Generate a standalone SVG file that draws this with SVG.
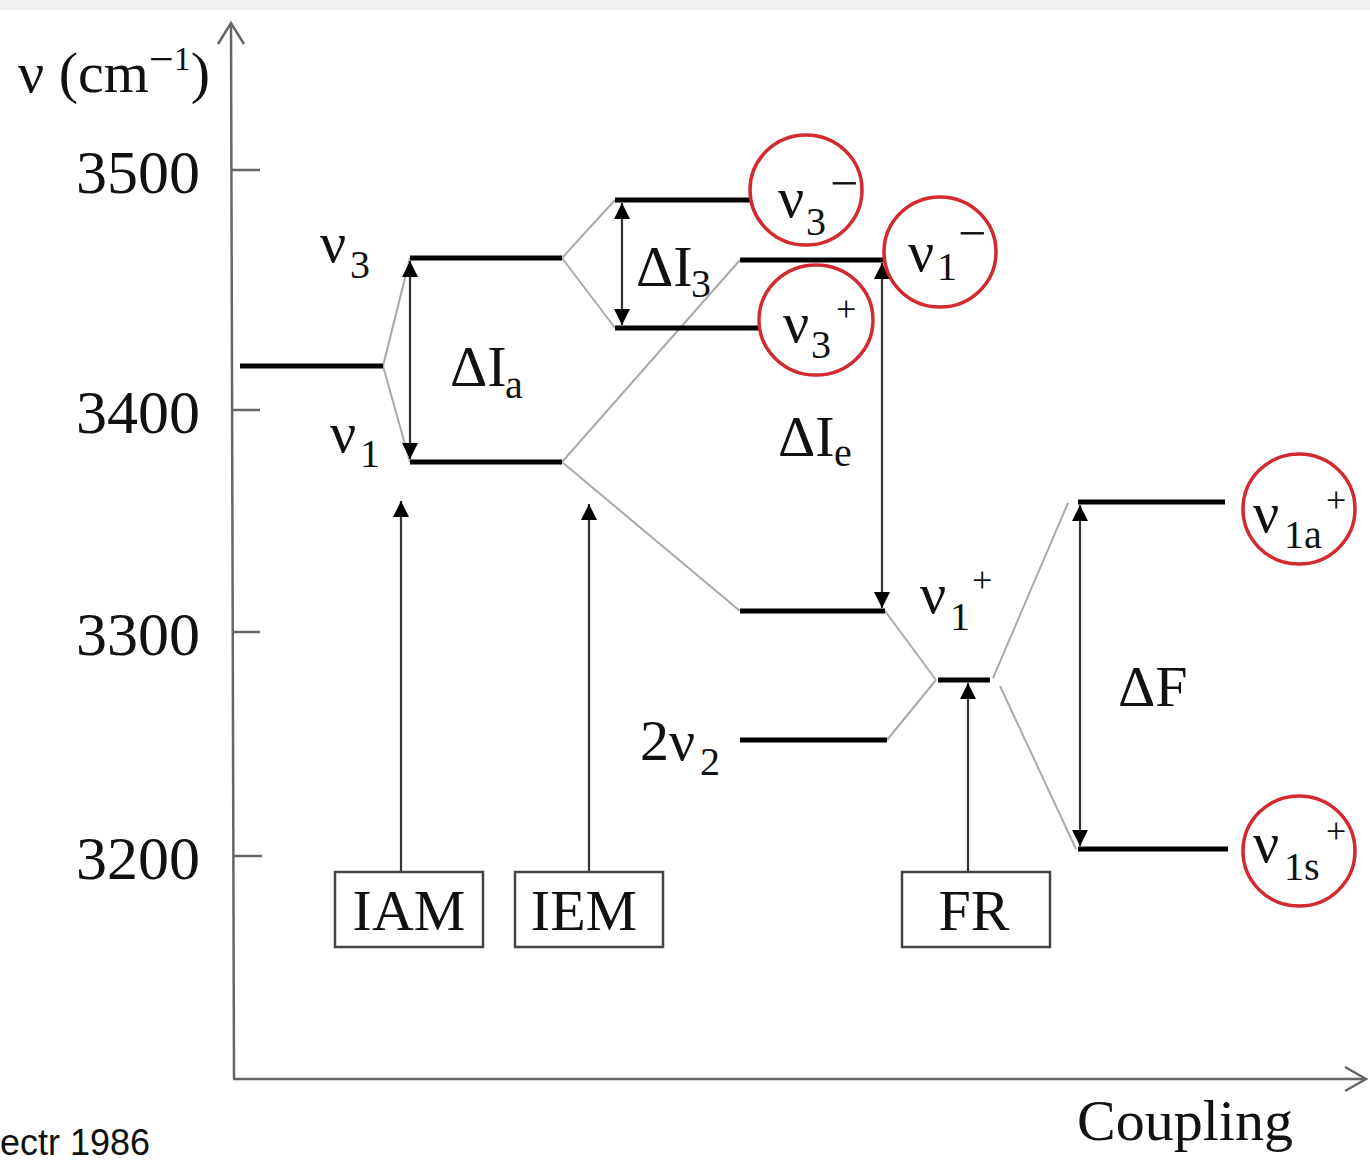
<svg xmlns="http://www.w3.org/2000/svg" width="1370" height="1175" viewBox="0 0 1370 1175">
<style>
.t{font-family:"Liberation Serif","Times New Roman",serif;fill:#111}
.big{font-size:58px}
.sub{font-size:40px}
.sup{font-size:36px}
.minus{font-size:50px}
.tick{font-size:62px}
.lvl{stroke:#000;stroke-width:5;fill:none}
.cor{stroke:#aaa;stroke-width:2;fill:none}
.arr{stroke:#333;stroke-width:2.2;fill:none}
.box{fill:#fff;stroke:#444;stroke-width:2.5}
.circ{fill:none;stroke:#d22a2e;stroke-width:3.5}
.axis{stroke:#666;stroke-width:2.5;fill:none}
</style>
<defs>
<marker id="ah" viewBox="0 0 10 10" refX="10" refY="5" markerWidth="20" markerHeight="16" markerUnits="userSpaceOnUse" orient="auto-start-reverse">
<path d="M0,0 L10,5 L0,10 z" fill="#000"/>
</marker>
</defs>
<rect x="0" y="0" width="1370" height="10" fill="#f0f0f0"/>
<rect x="0" y="10" width="1370" height="1165" fill="#fff"/>

<g id="axes">
<line class="axis" x1="231" y1="24" x2="234" y2="1079"/>
<polyline class="axis" points="218,44 231,23 244,44"/>
<line class="axis" x1="233" y1="1079" x2="1365" y2="1079"/>
<polyline class="axis" points="1345,1067 1366,1079 1345,1091"/>
<line class="axis" x1="231" y1="170" x2="260" y2="170"/>
<line class="axis" x1="232" y1="410" x2="260" y2="410"/>
<line class="axis" x1="233" y1="632" x2="260" y2="632"/>
<line class="axis" x1="233" y1="856" x2="262" y2="856"/>
<text class="t tick" x="200" y="193" text-anchor="end">3500</text>
<text class="t tick" x="200" y="433" text-anchor="end">3400</text>
<text class="t tick" x="200" y="655" text-anchor="end">3300</text>
<text class="t tick" x="200" y="879" text-anchor="end">3200</text>
<text class="t" style="font-size:58px" x="18" y="92">ν (cm<tspan style="font-size:44px" dy="-18">−</tspan><tspan style="font-size:34px" dy="-4">1</tspan><tspan dy="22">)</tspan></text>
<text class="t" style="font-size:58px" x="1077" y="1140">Coupling</text>
<text x="0" y="1155" style="font-family:'Liberation Sans',Arial,sans-serif;font-size:36px;fill:#111">ectr 1986</text>
</g>

<g id="connectors">
<line class="cor" x1="383" y1="366" x2="410" y2="258"/>
<line class="cor" x1="383" y1="366" x2="410" y2="462"/>
<line class="cor" x1="562" y1="258" x2="615" y2="200"/>
<line class="cor" x1="562" y1="258" x2="615" y2="328"/>
<line class="cor" x1="562" y1="462" x2="740" y2="260"/>
<line class="cor" x1="562" y1="462" x2="740" y2="611"/>
<line class="cor" x1="885" y1="611" x2="936" y2="680"/>
<line class="cor" x1="887" y1="740" x2="936" y2="680"/>
<line class="cor" x1="993" y1="678" x2="1068" y2="503"/>
<line class="cor" x1="1000" y1="686" x2="1076" y2="849"/>
<line class="arr" x1="410" y1="261" x2="410" y2="459" marker-start="url(#ah)" marker-end="url(#ah)"/>
<line class="arr" x1="622" y1="203" x2="622" y2="325" marker-start="url(#ah)" marker-end="url(#ah)"/>
<line class="arr" x1="882" y1="263" x2="882" y2="608" marker-start="url(#ah)" marker-end="url(#ah)"/>
<line class="arr" x1="1080" y1="505" x2="1080" y2="846" marker-start="url(#ah)" marker-end="url(#ah)"/>
<line class="arr" x1="401" y1="872" x2="401" y2="501" marker-end="url(#ah)"/>
<line class="arr" x1="589" y1="872" x2="589" y2="504" marker-end="url(#ah)"/>
<line class="arr" x1="968" y1="872" x2="968" y2="683" marker-end="url(#ah)"/>
</g>

<g id="level-unperturbed"><line class="lvl" x1="240" y1="366" x2="383" y2="366"/></g>
<g id="level-nu3">
<line class="lvl" x1="410" y1="258" x2="562" y2="258"/>
<text class="t big" x="320" y="262">ν</text><text class="t sub" x="350" y="278">3</text>
</g>
<g id="level-nu1">
<line class="lvl" x1="410" y1="462" x2="562" y2="462"/>
<text class="t big" x="330" y="452">ν</text><text class="t sub" x="360" y="467">1</text>
</g>
<g id="label-dIa"><text class="t big" x="450" y="386">ΔI</text><text class="t sub" x="505" y="398">a</text></g>
<g id="level-nu3-minus">
<line class="lvl" x1="615" y1="200" x2="750" y2="200"/>
<text class="t big" x="778" y="217">ν</text><text class="t sub" x="806" y="235">3</text><text class="t minus" x="830" y="200">−</text>
<ellipse class="circ" cx="806" cy="190" rx="56" ry="55"/>
</g>
<g id="level-nu3-plus">
<line class="lvl" x1="615" y1="328" x2="760" y2="328"/>
<text class="t big" x="783" y="342">ν</text><text class="t sub" x="811" y="358">3</text><text class="t sup" x="836" y="321">+</text>
<ellipse class="circ" cx="816" cy="320" rx="57" ry="55"/>
</g>
<g id="label-dI3"><text class="t big" x="636" y="286">ΔI</text><text class="t sub" x="691" y="297">3</text></g>
<g id="level-nu1-minus">
<line class="lvl" x1="740" y1="260" x2="885" y2="260"/>
<text class="t big" x="908" y="271">ν</text><text class="t sub" x="937" y="280">1</text><text class="t minus" x="958" y="250">−</text>
<ellipse class="circ" cx="940" cy="252" rx="56" ry="55"/>
</g>
<g id="label-dIe"><text class="t big" x="778" y="456">ΔI</text><text class="t sub" x="834" y="466">e</text></g>
<g id="level-nu1-plus">
<line class="lvl" x1="740" y1="611" x2="885" y2="611"/>
<text class="t big" x="920" y="613">ν</text><text class="t sub" x="950" y="630">1</text><text class="t sup" x="972" y="592">+</text>
</g>
<g id="level-2nu2">
<line class="lvl" x1="740" y1="740" x2="887" y2="740"/>
<text class="t big" x="640" y="760">2ν</text><text class="t sub" x="700" y="775">2</text>
</g>
<g id="level-fr"><line class="lvl" x1="938" y1="680" x2="990" y2="680"/></g>
<g id="level-nu1a">
<line class="lvl" x1="1078" y1="502" x2="1225" y2="502"/>
<text class="t big" x="1253" y="532">ν</text><text class="t sub" x="1284" y="548">1a</text><text class="t sup" x="1326" y="512">+</text>
<ellipse class="circ" cx="1299" cy="509" rx="56" ry="55"/>
</g>
<g id="level-nu1s">
<line class="lvl" x1="1078" y1="849" x2="1228" y2="849"/>
<text class="t big" x="1253" y="862">ν</text><text class="t sub" x="1284" y="880">1s</text><text class="t sup" x="1326" y="843">+</text>
<ellipse class="circ" cx="1299" cy="851" rx="56" ry="55"/>
</g>
<g id="label-dF"><text class="t big" x="1118" y="706">ΔF</text></g>

<g id="box-IAM"><rect class="box" x="335" y="872" width="148" height="75"/><text class="t big" x="409" y="930" text-anchor="middle">IAM</text></g>
<g id="box-IEM"><rect class="box" x="515" y="872" width="148" height="75"/><text class="t big" x="584" y="930" text-anchor="middle">IEM</text></g>
<g id="box-FR"><rect class="box" x="902" y="872" width="148" height="75"/><text class="t big" x="974" y="930" text-anchor="middle">FR</text></g>
</svg>
